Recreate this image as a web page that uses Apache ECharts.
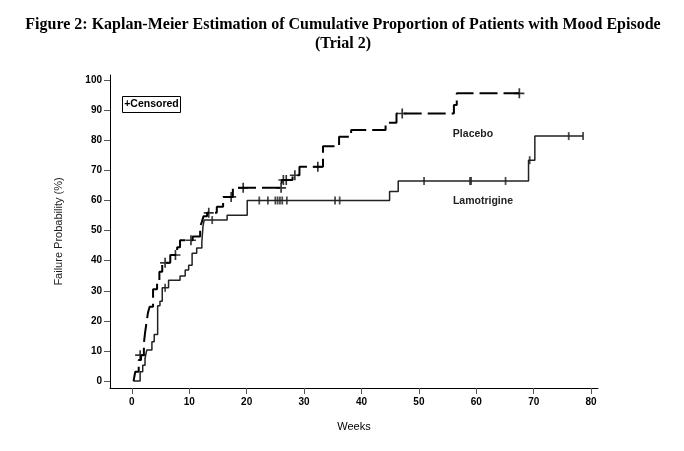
<!DOCTYPE html>
<html>
<head>
<meta charset="utf-8">
<script src="https://cdn.jsdelivr.net/npm/echarts@6/dist/echarts.min.js"></script>
<style>html,body{margin:0;padding:0;background:#fff}#c{width:684px;height:451px}</style>
</head>
<body>
<div id="c"></div>
<script>
// Kaplan-Meier step data: [week, cumulative failure %]
const placeboSteps = [[0.3,0],[0.6,3.1],[1.2,7],[1.6,8.6],[2.1,12.6],[2.3,15.9],[2.6,20],[2.8,22.6],[3.1,24.7],[3.7,30.5],[4.4,33],[4.8,36.3],[5.3,39.3],[6.7,41.9],[7.9,44.5],[8.4,46.8],[10.6,48],[11.9,51.3],[12.2,52.9],[12.5,54.8],[13.1,55.9],[14.8,57.9],[15.9,61.2],[17.6,64.2],[26.1,66.8],[28,68.4],[29.2,71.2],[33.3,78],[36.1,81.2],[38.2,83.4],[44.2,85.8],[46.1,88.9],[56.1,91.7],[56.6,95.6],[67.5,95.6]];
const lamotrigineSteps = [[0.3,0],[1.45,3.1],[1.9,5.3],[2.3,7.5],[2.6,10.3],[3.5,13.1],[3.9,15.5],[4.5,25],[4.9,26.5],[5.3,31],[6.4,33.5],[8.4,34.9],[9.3,36.9],[9.9,38.5],[10.5,42.5],[11.3,44.2],[12.2,46.3],[12.4,51.5],[12.6,53.5],[16.6,55.1],[20.1,60],[44.9,63],[46.4,66.5],[69.1,73.4],[70.2,81.4],[78.6,81.4]];
const placeboCensored = [[1.45,8.6],[5.8,39.3],[7.6,41.9],[10.3,46.8],[13.4,55.9],[17.3,61.2],[19.4,64.2],[26,64.2],[26.4,66.8],[26.9,66.8],[28.4,68.4],[32.4,71.2],[47.1,88.9],[67.5,95.6]];
const lamotrigineCensored = [[5.8,31],[14,53.5],[22.2,60],[23.7,60],[25.0,60],[25.4,60],[25.8,60],[26.2,60],[27.0,60],[35.4,60],[36.2,60],[50.9,66.5],[58.9,66.5],[59.1,66.5],[65.1,66.5],[69.3,73.4],[76.1,81.4],[78.6,81.4]];
const xTicks = [0,10,20,30,40,50,60,70,80];
const yTicks = [0,10,20,30,40,50,60,70,80,90,100];
const titleLines = ['Figure 2: Kaplan-Meier Estimation of Cumulative Proportion of Patients with Mood Episode', '(Trial 2)'];

const plusPath = 'path://M7.5,0h3v18h-3z M0,7.5h18v3h-18z';
const vPath = 'path://M0,0h2v16h-2z';
const sans = 'Liberation Sans, Arial, sans-serif';
const serif = 'Liberation Serif, Times New Roman, serif';
const axisFont = {fontFamily:sans, fontWeight:'bold', fontSize:10, color:'#000'};

const chart = echarts.init(document.getElementById('c'));
chart.setOption({
  animation:false,
  backgroundColor:'#fff',
  grid:{left:110, top:75, right:86, bottom:63, containLabel:false, outerBoundsMode:'none'},
  xAxis:{
    type:'value', min:-3.8, max:81.2,
    name:'Weeks', nameLocation:'middle', nameGap:33,
    nameTextStyle:{fontFamily:sans, fontSize:11, color:'#000'},
    axisLine:{onZero:false, lineStyle:{color:'#000', width:1}},
    axisTick:{show:true, length:6, customValues:xTicks, lineStyle:{color:'#555'}},
    axisLabel:Object.assign({customValues:xTicks, margin:9}, axisFont),
    splitLine:{show:false}
  },
  yAxis:{
    type:'value', min:-2.3, max:101.7,
    name:'Failure Probability (%)', nameLocation:'middle', nameGap:46, nameRotate:90,
    nameTextStyle:{fontFamily:sans, fontSize:11, color:'#222'},
    axisLine:{onZero:false, lineStyle:{color:'#000', width:1}},
    axisTick:{show:true, length:6, customValues:yTicks, lineStyle:{color:'#555'}},
    axisLabel:Object.assign({customValues:yTicks, margin:8}, axisFont),
    splitLine:{show:false}
  },
  series:[
    {name:'Placebo', type:'line', step:'end', data:placeboSteps, symbol:'none',
     lineStyle:{color:'#000', width:2, type:[18,6]}, z:3},
    {name:'Lamotrigine', type:'line', step:'end', data:lamotrigineSteps, symbol:'none',
     lineStyle:{color:'#222', width:1.5}, z:2},
    {name:'Placebo censored', type:'scatter', data:placeboCensored, symbol:plusPath, symbolSize:[10,10],
     itemStyle:{color:'#000'}, z:4},
    {name:'Lamotrigine censored', type:'scatter', data:lamotrigineCensored, symbol:vPath, symbolSize:[1.8,8],
     itemStyle:{color:'#222'}, z:4}
  ],
  graphic:[
    {type:'text', x:343, y:25, style:{text:titleLines[0], fontFamily:serif, fontWeight:'bold', fontSize:16, fill:'#000', align:'center', verticalAlign:'middle'}},
    {type:'text', x:343, y:44, style:{text:titleLines[1], fontFamily:serif, fontWeight:'bold', fontSize:16, fill:'#000', align:'center', verticalAlign:'middle'}},
    {type:'rect', shape:{x:122.5, y:96.5, width:58, height:16}, style:{fill:'#fff', stroke:'#000', lineWidth:1}},
    {type:'text', x:151.5, y:104.5, style:{text:'+Censored', fontFamily:sans, fontWeight:'bold', fontSize:10.5, fill:'#000', align:'center', verticalAlign:'middle'}},
    {type:'text', x:473, y:134, style:{text:'Placebo', fontFamily:sans, fontWeight:'bold', fontSize:10.5, fill:'#222', align:'center', verticalAlign:'middle'}},
    {type:'text', x:483, y:201, style:{text:'Lamotrigine', fontFamily:sans, fontWeight:'bold', fontSize:10.5, fill:'#222', align:'center', verticalAlign:'middle'}}
  ]
});
</script>
</body>
</html>
